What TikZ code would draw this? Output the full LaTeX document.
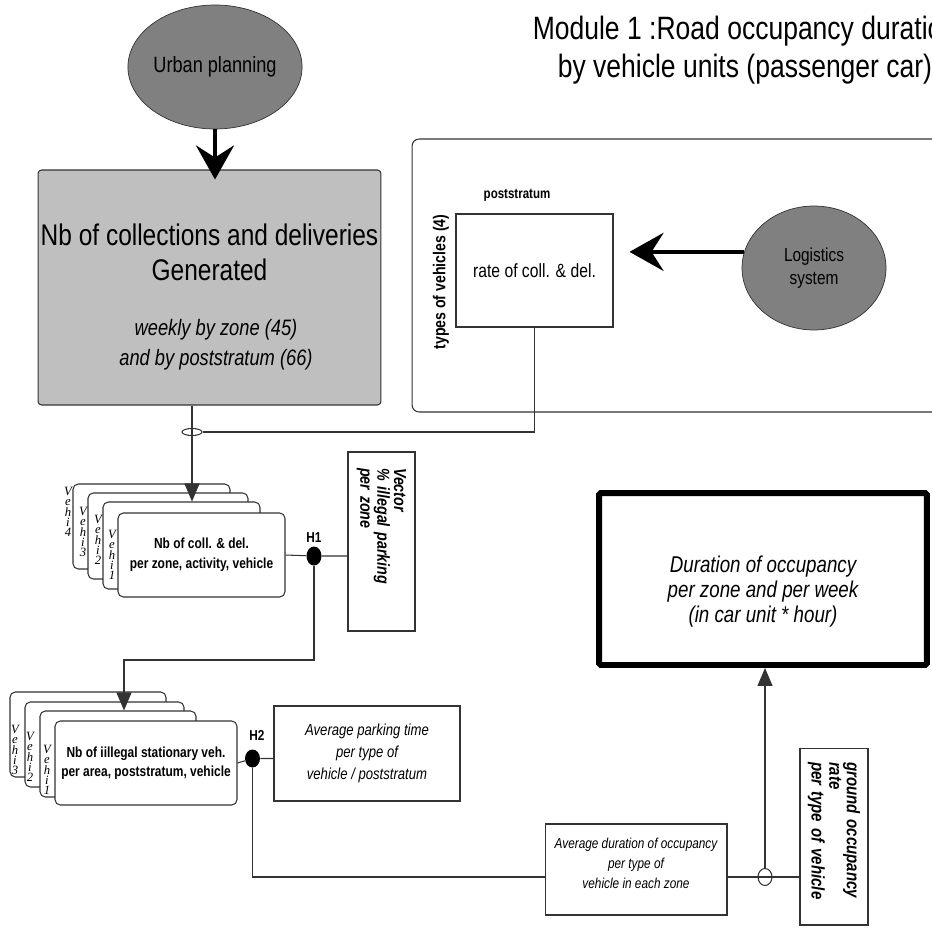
\documentclass[tikz,border=0pt]{standalone}
\usepackage{fontspec}
\setmainfont[FakeStretch=0.82]{Liberation Sans}
\newfontfamily\vehfont{Liberation Serif}
\usetikzlibrary{arrows.meta,positioning,shapes.geometric}
\newcommand\fsz[2]{\fontsize{#1}{#2}\selectfont}

\begin{document}
\begin{tikzpicture}[
  x=0.02cm, y=-0.02cm,
  link/.style={draw=black!80, line width=0.6pt},
  tri/.style={-{Triangle[length=0.36cm, width=0.3cm]}},
  heavy/.style={line width=2.6pt, -{Stealth[length=0.68cm, width=0.76cm, inset=0.24cm]}},
  blob/.style={ellipse, draw=black!80, fill=black!50, inner sep=0pt, align=center},
  plainbox/.style={draw=black!80, line width=0.6pt, inner sep=0pt, align=center},
  card/.style={plainbox, rounded corners=3pt, fill=white},
  vehi/.style={font=\vehfont\itshape\fsz{7.2}{5.8}, align=center, inner sep=0pt},
  hdot/.style={ellipse, fill=black, inner sep=0pt, minimum width=0.3cm, minimum height=0.38cm},
  junc/.style={ellipse, draw=black!80, line width=0.6pt, inner sep=0pt},
  tag/.style={font=\bfseries\fsz{8.2}{9}, inner sep=0pt}
]
\useasboundingbox (0,0) rectangle (932,929);
\clip (0,0) rectangle (932,929);

% title
\node[align=center, font=\fsz{18.4}{21.5}] (title) at (745,50)
  {Module 1 :Road occupancy duration\\by vehicle units (passenger car)};

% generation
\node[blob, minimum width=2.92cm, minimum height=2.48cm, font=\fsz{12.6}{14}] (urban) at (215,67) {Urban planning};
\node[plainbox, rounded corners=2pt, fill=black!25, minimum width=6.86cm, minimum height=4.7cm] (gen) at (209.5,287.5) {};
\node[align=center, font=\fsz{17}{19.8}] (gentext) at (209.5,252) {Nb of collections and deliveries\\Generated};
\node[align=center, font=\itshape\fsz{12.7}{17}] (genzone) at (216,345) {weekly by zone (45)\\and by poststratum (66)};
\draw[heavy, shorten >=-0.2cm] (urban.south) -- (urban.south |- gen.north);

% logistics panel
\node[plainbox, rounded corners=4pt, minimum width=10.96cm, minimum height=5.46cm] (panel) at (686,275.5) {};
\node[tag, font=\bfseries\fsz{8}{9}] (post) at (517,195) {poststratum};
\node[tag, rotate=90, font=\bfseries\fsz{9.8}{11}] (types) at (441,282) {types of vehicles (4)};
\node[plainbox, minimum width=3.14cm, minimum height=2.26cm, font=\fsz{10.9}{12}] (rate) at (534.5,270.5) {rate of coll. \& del.};
\node[blob, minimum width=2.88cm, minimum height=2.48cm, font=\fsz{10.7}{13}] (logis) at (814,268) {Logistics\\system};
\draw[heavy, shorten >=0.32cm] (logis.167) -- (logis.167 -| rate.east);

\node[junc, minimum width=0.4cm, minimum height=0.14cm] (j1) at (192,432) {};
\draw[link] (rate.south) |- (j1.east);

% first stack
\node[card, minimum width=3.14cm, minimum height=1.7cm] (s1d) at (151.5,526.5) {};
\node[card, minimum width=3.2cm, minimum height=1.72cm] (s1c) at (168,536) {};
\node[card, minimum width=3.14cm, minimum height=1.74cm] (s1b) at (181.5,545.5) {};
\node[card, minimum width=3.34cm, minimum height=1.68cm, font=\bfseries\fsz{8.3}{11.5}] (s1a) at (201.5,555)
  {Nb of coll. \& del.\\per zone, activity, vehicle};
\node[vehi] (v14) at (68,512) {V\\e\\h\\i\\4};
\node[vehi] (v13) at (83,532) {V\\e\\h\\i\\3};
\node[vehi] (v12) at (98,540) {V\\e\\h\\i\\2};
\node[vehi] (v11) at (112,555) {V\\e\\h\\i\\1};
\draw[link, tri] (gen.south -| j1) -- (j1 |- s1b.north);

\node[hdot] (h1) at (314,556) {};
\node[tag] (h1lbl) at (314,538) {H1};
\node[plainbox, rotate=-90, minimum width=3.58cm, minimum height=1.34cm, text width=2.94cm, align=left,
  font=\bfseries\itshape\fsz{9.9}{9.6}] (vector) at (381.5,541.5) {Vector\\\% illegal parking\\per zone};
\draw[link] (s1a.east) -- (h1) -- (h1 -| vector.south);

% second stack
\node[card, minimum width=3.12cm, minimum height=1.7cm] (s2d) at (88,734.5) {};
\node[card, minimum width=3.18cm, minimum height=1.7cm] (s2c) at (104.5,744.5) {};
\node[card, minimum width=3.12cm, minimum height=1.72cm] (s2b) at (118,754) {};
\node[card, minimum width=3.64cm, minimum height=1.68cm, font=\bfseries\fsz{8.3}{11}] (s2a) at (146,763)
  {Nb of iillegal stationary veh.\\per area, poststratum, vehicle};
\node[vehi] (v23) at (15,750) {V\\e\\h\\i\\3};
\node[vehi] (v22) at (30,757) {V\\e\\h\\i\\2};
\node[vehi] (v21) at (47,770) {V\\e\\h\\i\\1};
\coordinate (k1) at (124,660);
\draw[link, tri] (h1) |- (k1) -- (k1 |- s2b.north);

\node[hdot, minimum height=0.36cm] (h2) at (252.5,758.5) {};
\node[tag] (h2lbl) at (257,735) {H2};
\node[plainbox, minimum width=3.72cm, minimum height=1.9cm, font=\itshape\fsz{9.1}{12.5}] (park) at (367,753.5)
  {Average parking time\\per type of\\vehicle / poststratum};
\draw[link] (s2a.east) -- (h2) -- (h2 -| park.west);

% occupancy
\node[plainbox, minimum width=3.64cm, minimum height=1.82cm] (avgdur) at (636,869.5) {};
\node[align=center, font=\itshape\fsz{8.2}{11.3}] (avgtext) at (636,863)
  {Average duration of occupancy\\per type of\\vehicle in each zone};
\node[plainbox, rotate=-90, minimum width=3.54cm, minimum height=1.36cm, text width=2.98cm, align=left,
  font=\bfseries\itshape\fsz{10.4}{10}] (ground) at (834,836.5) {ground occupancy\\rate\\per type of vehicle};
\node[plainbox, draw=black, line width=3.4pt, rounded corners=1pt, minimum width=6.56cm, minimum height=3.44cm] (duration) at (763,579) {};
\node[align=center, font=\itshape\fsz{13}{14.2}] (durtext) at (763,592)
  {Duration of occupancy\\per zone and per week\\(in car unit * hour)};
\node[junc, minimum width=0.28cm, minimum height=0.34cm] (j2) at (765,877) {};
\draw[link] (h2) |- (avgdur.west |- j2);
\draw[link] (j2 -| avgdur.east) -- (j2 -| ground.south);
\draw[link, tri] (j2) -- (j2 |- duration.south);

\end{tikzpicture}
\end{document}
